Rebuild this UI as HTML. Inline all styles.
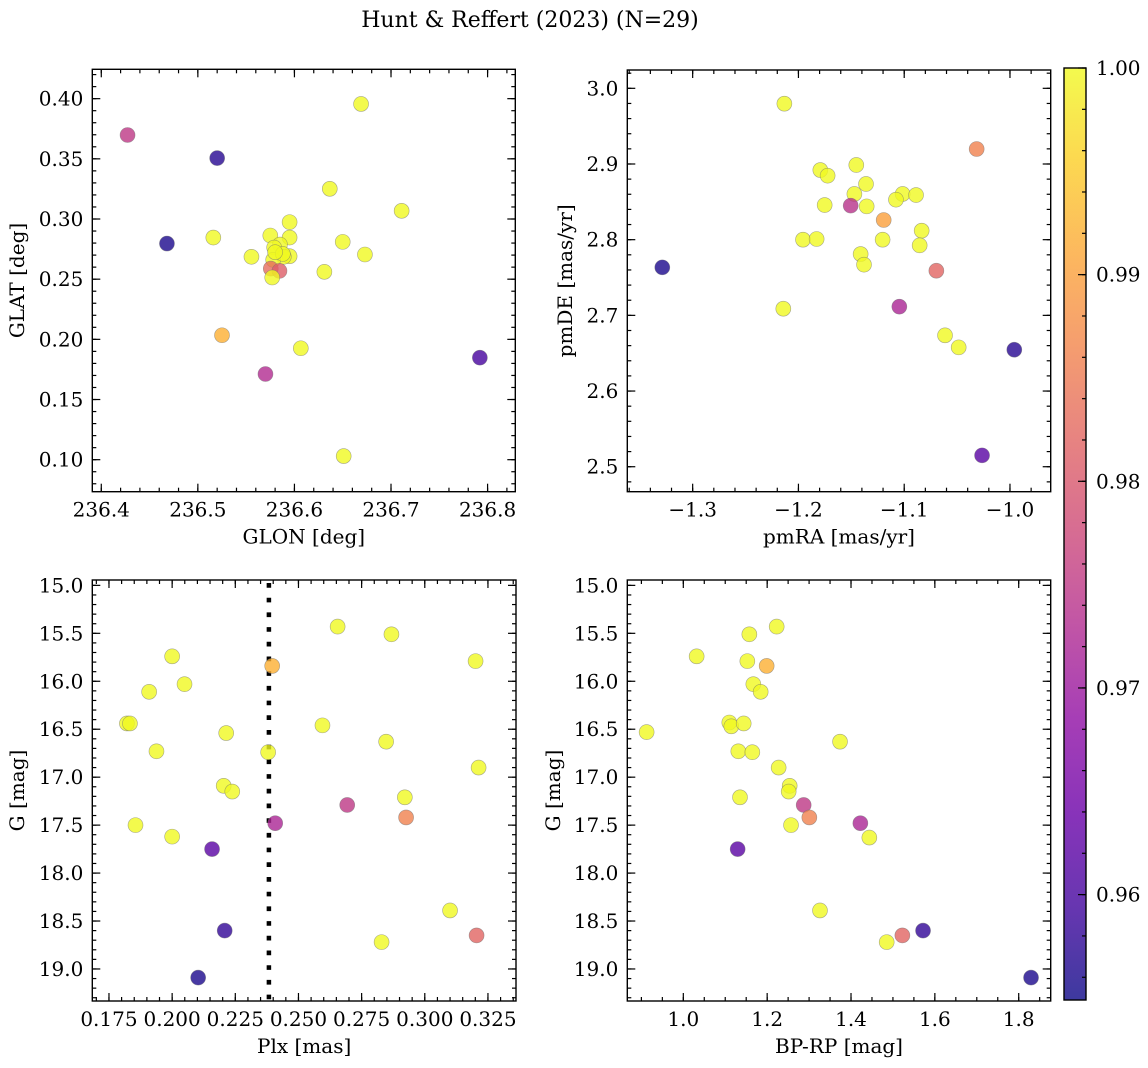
<!DOCTYPE html>
<html><head><meta charset="utf-8"><style>
html,body{margin:0;padding:0;background:#fff;}
svg{display:block;font-family:"DejaVu Serif","Liberation Serif",serif;}
</style></head><body>
<svg id="fig" width="1148" height="1068" viewBox="0 0 1148 1068" xmlns="http://www.w3.org/2000/svg">
<text x="530" y="27" font-size="22" text-anchor="middle">Hunt &amp; Reffert (2023) (N=29)</text>
</svg>
<script>
// ---- data ----
const glon = [236.4272,236.520,236.468,236.792,236.669,236.6366,236.711,236.516,236.595,236.575,236.595,236.650,236.585,236.579,236.5555,236.595,236.589,236.578,236.673,236.631,236.5755,236.5845,236.577,236.525,236.6066,236.570,236.651,236.588,236.580];
const glat = [0.3698,0.3506,0.2796,0.1848,0.3956,0.3251,0.3068,0.2846,0.2974,0.2863,0.2846,0.2810,0.2788,0.2763,0.2686,0.2691,0.2686,0.2661,0.2705,0.2561,0.2588,0.2569,0.2514,0.2034,0.1926,0.1712,0.1030,0.2710,0.2724];
const probA = [0.975,0.957,0.956,0.960,1,1,1,1,1,1,1,1,1,1,1,1,1,1,1,1,0.983,0.981,1,0.992,1,0.973,1,1,1];

const pmra = [-1.2133,-1.3287,-0.9959,-1.0264,-1.0315,-1.1793,-1.1724,-1.1453,-1.1361,-1.1471,-1.1015,-1.1078,-1.0888,-1.1752,-1.1506,-1.1355,-1.1194,-1.1957,-1.1828,-1.1204,-1.0835,-1.0854,-1.1412,-1.138,-1.0696,-1.2143,-1.1046,-1.0614,-1.0485];
const pmde = [2.9797,2.7634,2.6546,2.515,2.9198,2.892,2.8846,2.8987,2.8736,2.8604,2.8604,2.8529,2.859,2.8458,2.845,2.844,2.826,2.800,2.8009,2.800,2.8119,2.7925,2.781,2.767,2.759,2.7088,2.7115,2.6736,2.6577];
const probB = [1,0.956,0.957,0.962,0.986,1,1,1,1,1,1,1,1,1,0.974,1,0.990,1,1,1,1,1,1,1,0.982,1,0.972,1,1];

const plx  = [0.2655,0.2868,0.200,0.3201,0.2396,0.2049,0.1909,0.1821,0.1833,0.2595,0.2214,0.2847,0.1938,0.2380,0.3213,0.2204,0.2238,0.2921,0.2693,0.2926,0.2408,0.1855,0.200,0.2158,0.310,0.3205,0.2208,0.2829,0.2103];
const bprp = [1.2227,1.1575,1.0318,1.1527,1.1988,1.167,1.1845,1.1097,1.1145,1.144,0.9125,1.3738,1.1312,1.1646,1.2274,1.2537,1.2513,1.1352,1.2871,1.3006,1.4223,1.2569,1.4437,1.1296,1.326,1.5225,1.5718,1.4851,1.8294];
const gmagC = [15.43,15.51,15.74,15.79,15.84,16.03,16.11,16.44,16.44,16.46,16.54,16.63,16.73,16.74,16.90,17.09,17.15,17.21,17.29,17.42,17.48,17.50,17.62,17.75,18.39,18.65,18.60,18.72,19.09];
const gmagD = [15.43,15.51,15.74,15.79,15.84,16.03,16.11,16.43,16.47,16.44,16.53,16.63,16.73,16.74,16.90,17.09,17.15,17.21,17.29,17.42,17.48,17.50,17.63,17.75,18.39,18.65,18.60,18.72,19.09];
const probC = [1,1,1,1,0.992,1,1,1,1,1,1,1,1,1,1,1,1,1,0.975,0.986,0.972,1,1,0.962,1,0.982,0.958,1,0.956];
const plxCut = [0.2383];
const cbarTicks = [0.96,0.97,0.98,0.99,1.00];
const cbarRange = [0.9549,1.0];

// ---- helpers ----
const NS="http://www.w3.org/2000/svg";
const svg=document.getElementById('fig');
const FS=20;
function mk(tag,attrs,parent){const e=document.createElementNS(NS,tag);for(const k in attrs)e.setAttribute(k,attrs[k]);(parent||svg).appendChild(e);return e;}
const plasma=[[13,8,135],[65,4,157],[106,0,168],[143,13,164],[177,42,144],[204,71,120],[225,100,98],[242,132,75],[252,166,54],[252,206,37],[240,249,33]];
function cmap(v){let t=(v-cbarRange[0])/(cbarRange[1]-cbarRange[0]);t=Math.max(0,Math.min(1,t));const f=t*10,i=Math.min(9,Math.floor(f)),u=f-i;const a=plasma[i],b=plasma[i+1];return 'rgb('+[0,1,2].map(k=>Math.round(a[k]+(b[k]-a[k])*u)).join(',')+')';}
function fmt(v,d){let s=v.toFixed(d);if(v<0)s='\u2212'+s.slice(1);return s;}

function panel(cfg){
  const g=mk('g',{});
  
  
  const L=cfg.box[0],T=cfg.box[1],R=cfg.box[2],B=cfg.box[3];
  const sx=v=>L+(v-cfg.xd[0])/(cfg.xd[1]-cfg.xd[0])*(R-L);
  const sy=cfg.yinv? (v=>T+(v-cfg.yd[0])/(cfg.yd[1]-cfg.yd[0])*(B-T)) : (v=>B-(v-cfg.yd[0])/(cfg.yd[1]-cfg.yd[0])*(B-T));
  const tg=mk('g',{stroke:'#000','stroke-width':1.2},g);
  
  
  function ticks(lo,hi,step){const a=[];const n0=Math.ceil(lo/step-1e-6),n1=Math.floor(hi/step+1e-6);for(let n=n0;n<=n1;n++)a.push(n*step);return a;}
  ticks(cfg.xd[0],cfg.xd[1],cfg.xminor).forEach(v=>{const x=sx(v);mk('line',{x1:x,y1:B,x2:x,y2:B-4},tg);mk('line',{x1:x,y1:T,x2:x,y2:T+4},tg);});
  ticks(cfg.yd[0],cfg.yd[1],cfg.yminor).forEach(v=>{const y=sy(v);mk('line',{x1:L,y1:y,x2:L+4,y2:y},tg);mk('line',{x1:R,y1:y,x2:R-4,y2:y},tg);});
  ticks(cfg.xd[0],cfg.xd[1],cfg.xmajor).forEach(v=>{const x=sx(v);mk('line',{x1:x,y1:B,x2:x,y2:B-8},tg);mk('line',{x1:x,y1:T,x2:x,y2:T+8},tg);
    const t=mk('text',{x:x,y:B+25,'font-size':FS,'text-anchor':'middle'},g);t.textContent=fmt(v,cfg.xdec);
    
    });
  ticks(cfg.yd[0],cfg.yd[1],cfg.ymajor).forEach(v=>{const y=sy(v);mk('line',{x1:L,y1:y,x2:L+8,y2:y},tg);mk('line',{x1:R,y1:y,x2:R-8,y2:y},tg);
    const t=mk('text',{x:L-9,y:y+7,'font-size':FS,'text-anchor':'end'},g);t.textContent=fmt(v,cfg.ydec);
    
    });
  if(cfg.vline){const x=sx(cfg.vline[0]);const l=mk('line',{x1:x,y1:T+3,x2:x,y2:B,stroke:'#000','stroke-width':4.5,'stroke-dasharray':'4.7 10'},g);
    
    }
  const pg=mk('g',{},g);
  
  
  cfg.x.forEach((xv,i)=>{const c=mk('circle',{cx:sx(xv),cy:sy(cfg.y[i]),r:7.5,fill:cmap(cfg.c[i]),'fill-opacity':0.8,stroke:'#707070','stroke-opacity':0.6,'stroke-width':0.6},pg);
    
    });
  const fr=mk('rect',{x:L,y:T,width:R-L,height:B-T,fill:'none',stroke:'#000','stroke-width':1.4},g);
  
  
  const xl=mk('text',{x:(L+R)/2,y:B+52,'font-size':FS,'text-anchor':'middle'},g);xl.textContent=cfg.xlabel;
  
  
  const yx=cfg.ylx,yy=(T+B)/2;
  const yl=mk('text',{x:yx,y:yy,'font-size':FS,'text-anchor':'middle',transform:'rotate(-90 '+yx+' '+yy+')'},g);yl.textContent=cfg.ylabel;
  
  
}

panel({name:'glon-glat-panel',box:[92.3,69.3,515.3,491.7],xd:[236.3907,236.8287],yd:[0.0734,0.4244],x:glon,y:glat,c:probA,xmajor:0.1,xminor:0.02,ymajor:0.05,yminor:0.01,xdec:1,ydec:2,xlabel:'GLON [deg]',ylabel:'GLAT [deg]',ylx:24});
panel({name:'proper-motion-panel',box:[627.3,70,1050.7,491.7],xd:[-1.3618,-0.9615],yd:[2.467,3.0242],x:pmra,y:pmde,c:probB,xmajor:0.1,xminor:0.02,ymajor:0.1,yminor:0.02,xdec:1,ydec:1,xlabel:'pmRA [mas/yr]',ylabel:'pmDE [mas/yr]',ylx:572});
panel({name:'plx-g-panel',box:[92.3,580,516,1001],xd:[0.1684,0.3361],yd:[14.944,19.334],yinv:true,x:plx,y:gmagC,c:probC,xmajor:0.025,xminor:0.005,ymajor:0.5,yminor:0.1,xdec:3,ydec:1,xlabel:'Plx [mas]',ylabel:'G [mag]',ylx:24,vline:plxCut});
panel({name:'cmd-panel',box:[627.3,580,1050.7,1001],xd:[0.8664,1.8763],yd:[14.944,19.334],yinv:true,x:bprp,y:gmagD,c:probC,xmajor:0.2,xminor:0.05,ymajor:0.5,yminor:0.1,xdec:1,ydec:1,xlabel:'BP-RP [mag]',ylabel:'G [mag]',ylx:560});

// colorbar
(function(){
  const L=1064,R=1086,T=68,B=1000;
  const defs=mk('defs',{});
  const lg=mk('linearGradient',{id:'plasmaGrad',x1:0,y1:1,x2:0,y2:0},defs);
  for(let i=0;i<=20;i++){const t=i/20;mk('stop',{offset:t,'stop-color':cmap(cbarRange[0]+t*(cbarRange[1]-cbarRange[0]))},lg);}
  const g=mk('g',{});
  
  
  mk('rect',{x:L,y:T,width:R-L,height:B-T,fill:'url(#plasmaGrad)','fill-opacity':0.8},g);
  const sy=v=>B-(v-cbarRange[0])/(cbarRange[1]-cbarRange[0])*(B-T);
  for(let n=Math.ceil(cbarRange[0]/0.002);n*0.002<=cbarRange[1]+1e-9;n++){const y=sy(n*0.002);mk('line',{x1:R,y1:y,x2:R-4,y2:y,stroke:'#000','stroke-width':1.2},g);}
  cbarTicks.forEach(v=>{const y=sy(v);mk('line',{x1:R,y1:y,x2:R-8,y2:y,stroke:'#000','stroke-width':1.2},g);
    const t=mk('text',{x:R+10,y:y+7,'font-size':FS},g);t.textContent=v.toFixed(2);
    
    });
  mk('rect',{x:L,y:T,width:R-L,height:B-T,fill:'none',stroke:'#000','stroke-width':1.4},g);
})();
</script>
</body></html>
